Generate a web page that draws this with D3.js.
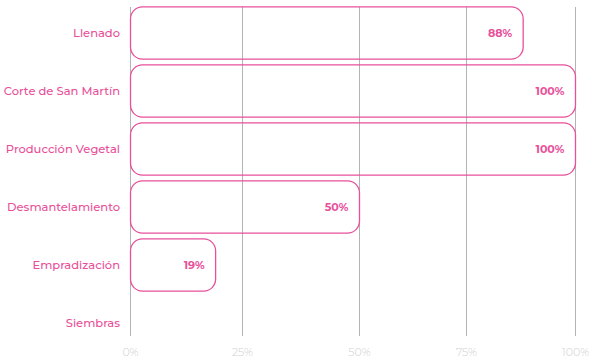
<!DOCTYPE html>
<html>
<head>
<meta charset="utf-8">
<script src="https://cdn.jsdelivr.net/npm/d3@7"></script>
<style>
  body { margin: 0; background: #fff; }
  text { font-family: "Montserrat", "Noto Sans", sans-serif; }
</style>
</head>
<body>
<div id="chart"></div>
<script>

// data
var categories = ["Llenado", "Corte de San Martín", "Producción Vegetal", "Desmantelamiento", "Empradización", "Siembras"];
var values = [88, 100, 100, 50, 19, 0];
var tickValues = [0, 25, 50, 75, 100];

var width = 589,
    height = 359,
    pink = "#e8509a";

var svg = d3.select("#chart")
  .append("svg")
  .attr("width", width)
  .attr("height", height);

// the grid in the picture is not quite evenly spaced, so a piecewise scale
var x = d3.scaleLinear()
  .domain(tickValues)
  .range([130.5, 242.5, 359.5, 466.5, 575.5]);

var y = d3.scaleBand()
  .domain(categories)
  .range([4, 352])
  .paddingInner(0.1)
  .paddingOuter(0.05);

// vertical grid lines
svg.selectAll(".grid")
  .data(tickValues)
  .enter().append("line")
  .attr("class", "grid")
  .attr("x1", function(d) { return x(d); })
  .attr("x2", function(d) { return x(d); })
  .attr("y1", 7)
  .attr("y2", 336)
  .attr("stroke", "#b3b3b3")
  .attr("stroke-width", 1);

// bottom tick labels
svg.selectAll(".tick-label")
  .data(tickValues)
  .enter().append("text")
  .attr("class", "tick-label")
  .attr("x", function(d) { return x(d); })
  .attr("y", 356)
  .attr("text-anchor", "middle")
  .attr("font-size", 11)
  .attr("font-weight", 300)
  .attr("fill", "#cfcfcf")
  .text(function(d) { return d + "%"; });

var rows = categories.map(function(c, i) { return { name: c, value: values[i] }; });

// bars (outline only, grid shows through)
svg.selectAll(".bar")
  .data(rows.filter(function(d) { return d.value > 0; }))
  .enter().append("rect")
  .attr("class", "bar")
  .attr("x", x(0))
  .attr("y", function(d) { return y(d.name); })
  .attr("width", function(d) { return x(d.value) - x(0); })
  .attr("height", y.bandwidth())
  .attr("rx", 12)
  .attr("ry", 12)
  .attr("fill", "none")
  .attr("stroke", pink)
  .attr("stroke-width", 1.3);

// value labels inside the bars
svg.selectAll(".value")
  .data(rows.filter(function(d) { return d.value > 0; }))
  .enter().append("text")
  .attr("class", "value")
  .attr("x", function(d) { return x(d.value) - 11; })
  .attr("y", function(d) { return y(d.name) + y.bandwidth() / 2; })
  .attr("dy", "0.35em")
  .attr("text-anchor", "end")
  .attr("font-size", 11)
  .attr("font-weight", 700)
  .attr("fill", pink)
  .text(function(d) { return d.value + "%"; });

// category labels
svg.selectAll(".cat")
  .data(rows)
  .enter().append("text")
  .attr("class", "cat")
  .attr("x", 120)
  .attr("y", function(d) { return y(d.name) + y.bandwidth() / 2; })
  .attr("dy", "0.35em")
  .attr("text-anchor", "end")
  .attr("font-size", 11.5)
  .attr("font-weight", 500)
  .attr("fill", pink)
  .text(function(d) { return d.name; });

</script>
</body>
</html>
